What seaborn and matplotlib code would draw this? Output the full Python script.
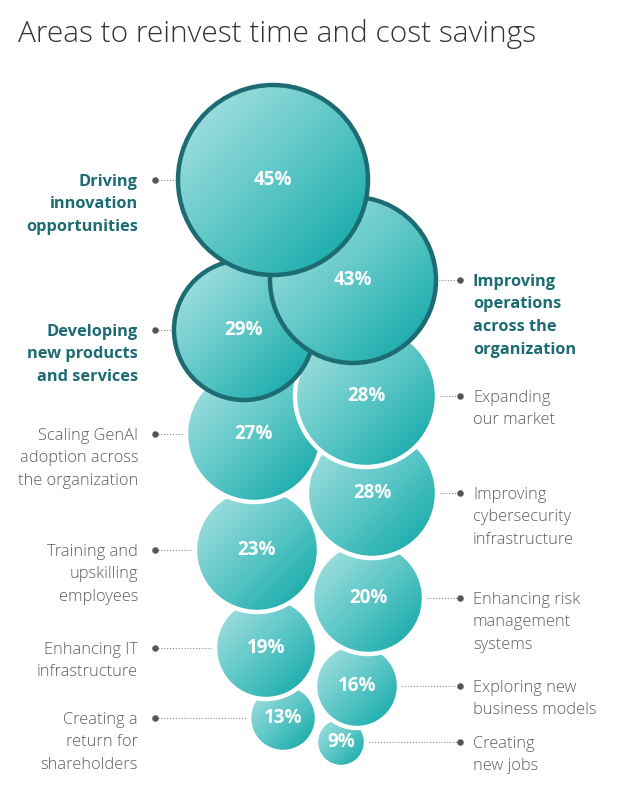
import numpy as np
import pandas as pd
import matplotlib
matplotlib.use("Agg")
import matplotlib.pyplot as plt
from matplotlib.patches import Circle
from matplotlib.colors import LinearSegmentedColormap
import seaborn as sns

# ---- data ----
title = "Areas to reinvest time and cost savings"
categories = [
    "Driving\ninnovation\nopportunities",
    "Improving\noperations\nacross the\norganization",
    "Developing\nnew products\nand services",
    "Expanding\nour market",
    "Scaling GenAI\nadoption across\nthe organization",
    "Improving\ncybersecurity\ninfrastructure",
    "Training and\nupskilling\nemployees",
    "Enhancing risk\nmanagement\nsystems",
    "Enhancing IT\ninfrastructure",
    "Exploring new\nbusiness models",
    "Creating a\nreturn for\nshareholders",
    "Creating\nnew jobs",
]
values = [45, 43, 29, 28, 27, 28, 23, 20, 19, 16, 13, 9]
highlight = [True, True, True] + [False] * 9

# ---- layout (pixel coords) ----
bub_x = [273, 353, 244, 366, 254, 372, 257, 368, 266, 357, 283, 341]
bub_y = [180, 280, 330, 396, 434, 493, 550, 598, 648, 686, 718, 742]
bub_r = [95, 83, 70, 71, 68, 65, 62, 56, 51, 42, 34, 25]
side = ["L", "R", "L", "R", "L", "R", "L", "R", "L", "R", "L", "R"]
LEFT_DOT, RIGHT_DOT = 155, 460
LEFT_TX, RIGHT_TX = 138, 473

TEAL_DARK = "#1d6b73"
GREY = "#5e5e5e"

sns.set_theme(style="white")
plt.rcParams['font.family'] = ['Open Sans', 'DejaVu Sans']

fig = plt.figure(figsize=(6.41, 8.07), dpi=100)
ax = fig.add_axes([0, 0, 1, 1])

cmap = LinearSegmentedColormap.from_list("teal", ["#b2e4e4", "#5ec7c7", "#08a4a4"])
n = 200
grad = np.add.outer(np.linspace(0, 1, n), np.linspace(0, 1, n)) / 2

for i, v in enumerate(values):
    cx, cy, r = bub_x[i], bub_y[i], bub_r[i]
    z = 100 - i * 2
    clip = Circle((cx, cy), r, facecolor="none", edgecolor="none")
    ax.add_patch(clip)
    im = ax.imshow(grad, cmap=cmap, extent=(cx - r, cx + r, cy + r, cy - r),
                   origin="upper", interpolation="bilinear", zorder=z)
    im.set_clip_path(clip)
    ec = TEAL_DARK if highlight[i] else "white"
    ax.add_patch(Circle((cx, cy), r, facecolor="none", edgecolor=ec, lw=3.2, zorder=z + 0.5))
    ax.text(cx, cy, f"{v}%", ha="center", va="center", color="white",
            fontsize=13.5, fontweight="bold", zorder=z + 1)

# leader lines and labels
pitch = 22.6
dot_x = []
for i, lab in enumerate(categories):
    cx, cy, r = bub_x[i], bub_y[i], bub_r[i]
    if side[i] == "L":
        ax.plot([LEFT_DOT, cx - r], [cy, cy], color="#8a8a8a", lw=0.8,
                ls=(0, (1, 1.6)), zorder=1)
        tx, ha = LEFT_TX, "right"
        dot_x.append(LEFT_DOT)
    else:
        ax.plot([cx + r, RIGHT_DOT], [cy, cy], color="#8a8a8a", lw=0.8,
                ls=(0, (1, 1.6)), zorder=1)
        tx, ha = RIGHT_TX, "left"
        dot_x.append(RIGHT_DOT)
    col = TEAL_DARK if highlight[i] else GREY
    wt = "bold" if highlight[i] else "light"
    for k, line in enumerate(lab.split("\n")):
        ax.text(tx, cy + k * pitch + 5.8, line, ha=ha, va="baseline",
                color=col, fontsize=11.8, fontweight=wt)

dots = pd.DataFrame({"x": dot_x, "y": bub_y})
sns.scatterplot(data=dots, x="x", y="y", color="#555555", s=22,
                linewidth=0, ax=ax, legend=False, zorder=2)

ax.text(18, 42, title, ha="left", va="baseline", fontsize=21.5,
        fontweight="light", color="#333333")

ax.set_xlim(0, 641)
ax.set_ylim(807, 0)
ax.set_aspect("auto")
ax.axis("off")

fig.savefig("out.png", dpi=100, facecolor="white")
